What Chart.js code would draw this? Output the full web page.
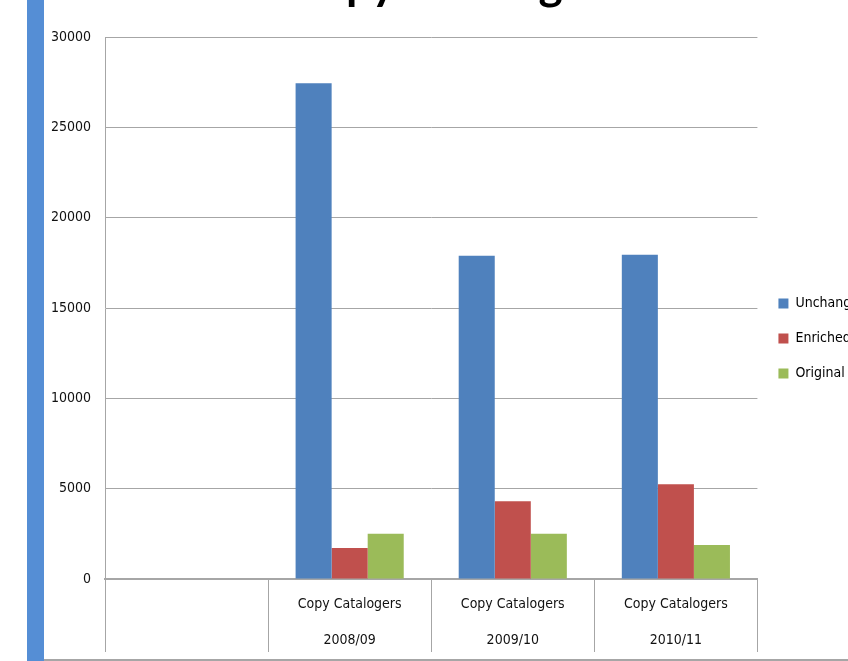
<!DOCTYPE html>
<html>
<head>
<meta charset="utf-8">
<script src="https://cdn.jsdelivr.net/npm/chart.js@4.4.1/dist/chart.umd.min.js"></script>
<style>
    html, body { margin: 0; padding: 0; width: 848px; height: 661px; overflow: hidden; background: #fff; }
    #wrap { position: relative; width: 848px; height: 661px; overflow: hidden; }
    #chart { position: absolute; left: 0; top: -60px; }
    #sidebar { position: absolute; left: 27px; top: 0; width: 17px; height: 661px; background: #558ed5; }
    #baseline { position: absolute; left: 44px; top: 659px; width: 804px; height: 2px; background: #a6a6a6; }
</style>
</head>
<body>
<div id="wrap">
    <canvas id="chart" width="877" height="721"></canvas>
    <div id="sidebar"></div>
    <div id="baseline"></div>
</div>
<script>
    // chart data
    var chartTitle = 'Copy Catalogers';
    var groupName = 'Copy Catalogers';
    var years = ['', '2008/09', '2009/10', '2010/11'];
    var unchanged = [null, 27450, 17900, 17950];
    var enriched = [null, 1720, 4300, 5250];
    var original = [null, 2500, 2500, 1880];
    var yTicks = [0, 5000, 10000, 15000, 20000, 25000, 30000];

    var narrow = "'Liberation Sans Narrow', 'DejaVu Sans Condensed', sans-serif";

    // two line category labels, first column stays empty
    var labels = years.map(function (y) {
        return y === '' ? '' : [groupName, y];
    });

    const ctx = document.getElementById('chart').getContext('2d');
    const chart = new Chart(ctx, {
        type: 'bar',
        data: {
            labels: labels,
            datasets: [{
                label: 'Unchanged',
                data: unchanged,
                backgroundColor: '#4f81bd'
            }, {
                label: 'Enriched',
                data: enriched,
                backgroundColor: '#c0504d'
            }, {
                label: 'Original',
                data: original,
                backgroundColor: '#9bbb59'
            }]
        },
        options: {
            responsive: false,
            animation: false,
            layout: {
                padding: { left: 37, right: 0, top: 0, bottom: 0 }
            },
            datasets: {
                bar: {
                    categoryPercentage: 0.663,
                    barPercentage: 1
                }
            },
            plugins: {
                title: {
                    display: true,
                    text: chartTitle,
                    color: '#000',
                    font: { family: 'Lato, sans-serif', size: 46, weight: 'bold' },
                    padding: { top: 17, bottom: 25 }
                },
                legend: {
                    position: 'right',
                    // empty legend title only pushes the items down a bit
                    title: {
                        display: true,
                        text: ' ',
                        font: { size: 10, lineHeight: 1.2 },
                        padding: 32
                    },
                    labels: {
                        boxWidth: 10,
                        boxHeight: 10,
                        padding: 21,
                        color: '#000',
                        font: { family: narrow, size: 14 }
                    }
                },
                tooltip: { enabled: false }
            },
            scales: {
                x: {
                    afterFit: function (scale) {
                        scale.height = 82;
                    },
                    grid: {
                        offset: true,
                        drawOnChartArea: false,
                        drawTicks: true,
                        tickLength: 73,
                        color: '#a6a6a6',
                        lineWidth: 1
                    },
                    border: { color: '#a6a6a6', width: 2 },
                    ticks: {
                        padding: -66,
                        color: '#111',
                        maxRotation: 0,
                        autoSkip: false,
                        font: { family: narrow, size: 14, lineHeight: 2.57 }
                    }
                },
                y: {
                    min: 0,
                    max: 30000,
                    afterFit: function (scale) {
                        scale.width = 68;
                    },
                    afterBuildTicks: function (scale) {
                        scale.ticks = yTicks.map(function (v) { return { value: v }; });
                    },
                    grid: {
                        drawTicks: false,
                        color: '#a6a6a6',
                        lineWidth: 1
                    },
                    border: { color: '#a6a6a6', width: 1 },
                    ticks: {
                        padding: 14,
                        color: '#111',
                        font: { family: narrow, size: 14 },
                        callback: function (value) {
                            return String(value);
                        }
                    }
                }
            }
        }
    });
</script>
</body>
</html>
